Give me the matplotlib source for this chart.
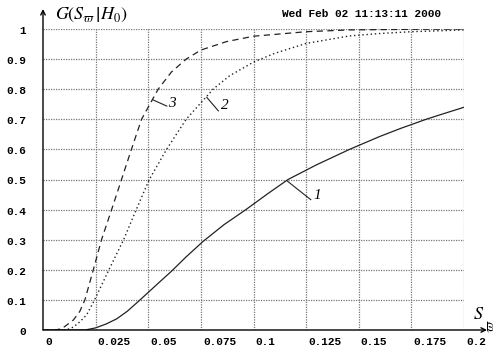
import matplotlib
matplotlib.use("Agg")
import matplotlib.pyplot as plt

# ---- data ----
x1 = [0, 0.02, 0.025, 0.03, 0.035, 0.04, 0.045, 0.05, 0.055, 0.061, 0.068, 0.076,
      0.086, 0.0966, 0.1064, 0.1164, 0.13, 0.1456, 0.16, 0.17, 0.182, 0.19, 0.2]
y1 = [0, 0, 0.007, 0.02, 0.037, 0.062, 0.093, 0.125, 0.157, 0.195, 0.243, 0.294,
      0.35, 0.401, 0.451, 0.5, 0.549, 0.6, 0.643, 0.67, 0.7, 0.718, 0.74]

x2 = [0, 0.011, 0.0145, 0.0176, 0.0207, 0.0245, 0.0313, 0.0383, 0.0443, 0.0505,
      0.0587, 0.068, 0.0808, 0.0887, 0.1, 0.11, 0.125, 0.1456, 0.16, 0.175, 0.2]
y2 = [0, 0, 0.01, 0.028, 0.05, 0.1, 0.2, 0.3, 0.4, 0.5,
      0.6, 0.7, 0.8, 0.845, 0.89, 0.919, 0.952, 0.977, 0.985, 0.991, 0.997]

x3 = [0, 0.0065, 0.01, 0.0144, 0.0175, 0.0199, 0.0239, 0.0278, 0.0326, 0.0373, 0.042,
      0.0468, 0.0547, 0.061, 0.068, 0.075, 0.0871, 0.1, 0.125, 0.1456, 0.175, 0.2]
y3 = [0, 0, 0.01, 0.033, 0.062, 0.1, 0.2, 0.3, 0.4, 0.5, 0.6,
      0.7, 0.8, 0.857, 0.9, 0.93, 0.958, 0.976, 0.991, 0.997, 0.999, 1.0]

xticks = [0, 0.025, 0.05, 0.075, 0.1, 0.125, 0.15, 0.175, 0.2]
xticklabels = ["0", "0.025", "0.05", "0.075", "0.1", "0.125", "0.15", "0.175", "0.2"]
yticks = [0, 0.1, 0.2, 0.3, 0.4, 0.5, 0.6, 0.7, 0.8, 0.9, 1]
yticklabels = ["0", "0.1", "0.2", "0.3", "0.4", "0.5", "0.6", "0.7", "0.8", "0.9", "1"]

title_text = "Wed Feb 02 11:13:11 2000"

plt.rcParams['mathtext.fontset'] = 'stix'

fig = plt.figure(figsize=(4.97, 3.54), dpi=100)
W, H = 497, 354
ax = fig.add_axes([43 / W, (H - 330) / H, 421 / W, 301 / H])
ax.set_xlim(0, 0.2)
ax.set_ylim(0, 1)
for s in ax.spines.values():
    s.set_visible(False)
ax.set_xticks(xticks)
ax.set_yticks(yticks)
ax.tick_params(length=0)
ax.set_xticklabels([])
ax.set_yticklabels([])

# grid
gridkw = dict(color="#777777", lw=0.9, ls=(0, (1, 1)), zorder=1)
for xv in xticks[1:]:
    ax.axvline(xv, **gridkw)
for yv in yticks[1:]:
    ax.axhline(yv, **gridkw)

# tick labels
mono = dict(family="Liberation Mono", weight="bold", fontsize=8)
for xv, lab in zip(xticks, xticklabels):
    ax.annotate(lab, (xv, 0), xycoords="data", xytext=(2, -12), textcoords="offset pixels",
                ha="left", va="center", **mono)
for yv, lab in zip(yticks, yticklabels):
    ax.annotate(lab, (0, yv), xycoords="data", xytext=(-17, -2), textcoords="offset pixels",
                ha="right", va="center", **mono)

# curves
ax.plot(x1, y1, color="#222222", lw=0.9, zorder=3)
ax.plot(x2, y2, color="#222222", lw=1.0, ls=(0, (1, 2)), zorder=3)
ax.plot(x3, y3, color="#222222", lw=0.9, ls=(0, (5, 3.5)), zorder=3)

# curve labels with leader lines
serif = dict(family="Liberation Serif", fontsize=11, style="italic")
ax.plot([0.1162, 0.1272], [0.494, 0.433], color="#222222", lw=0.8, zorder=3)
ax.text(0.1285, 0.447, "1", ha="left", va="center", **serif)
ax.plot([0.0778, 0.0833], [0.773, 0.728], color="#222222", lw=0.8, zorder=3)
ax.text(0.0845, 0.745, "2", ha="left", va="center", **serif)
ax.plot([0.0524, 0.0588], [0.764, 0.744], color="#222222", lw=0.8, zorder=3)
ax.text(0.0595, 0.752, "3", ha="left", va="center", **serif)

# axes with arrows
ax.annotate("", xy=(487 / W, (H - 330) / H), xytext=(43 / W, (H - 330) / H),
            xycoords="figure fraction",
            arrowprops=dict(arrowstyle="->", color="black", lw=1.0,
                            shrinkA=0, shrinkB=0, mutation_scale=8))
ax.annotate("", xy=(43 / W, (H - 9) / H), xytext=(43 / W, (H - 330) / H),
            xycoords="figure fraction",
            arrowprops=dict(arrowstyle="->", color="black", lw=1.0,
                            shrinkA=0, shrinkB=0, mutation_scale=8))

# axis labels
fig.text(55 / W, (H - 15) / H, r"$G(S_{\varpi}\,\left|H_0\right)$", fontsize=13,
         ha="left", va="center")
fig.text(479 / W, (H - 314) / H, r"$S$", fontsize=13, ha="center", va="center")
fig.text(490 / W, (H - 326) / H, r"$\varpi$", fontsize=10, ha="center", va="center",
         rotation=90)

fig.text(362 / W, (H - 14) / H, title_text, ha="center", va="center", **mono)

fig.savefig("out.png", dpi=100)
